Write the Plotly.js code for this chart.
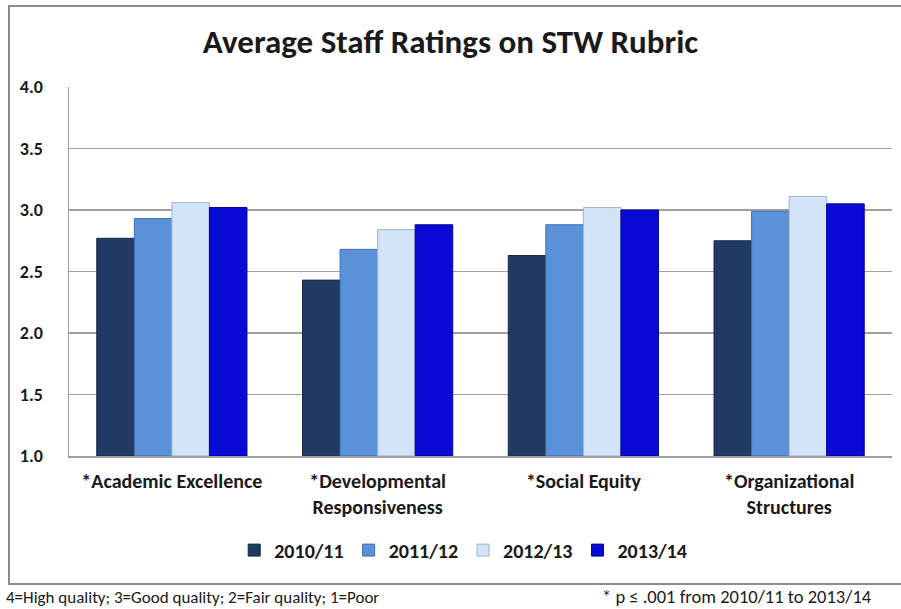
<!DOCTYPE html>
<html>
<head>
<meta charset="utf-8">
<script src="https://cdn.plot.ly/plotly-3.0.1.min.js"></script>
<style>
html,body{margin:0;padding:0;background:#fff;}
#chart{width:901px;height:609px;}
</style>
</head>
<body>
<div id="chart"></div>
<script>
const categories = ["*Academic Excellence", "*Developmental<br>Responsiveness", "*Social Equity", "*Organizational<br>Structures"];
const seriesNames = ["2010/11", "2011/12", "2012/13", "2013/14"];
const v2010 = [2.77, 2.43, 2.63, 2.75];
const v2011 = [2.93, 2.68, 2.88, 2.99];
const v2012 = [3.06, 2.84, 3.02, 3.11];
const v2013 = [3.02, 2.88, 3.00, 3.05];
const yTicks = [1.0, 1.5, 2.0, 2.5, 3.0, 3.5, 4.0];
const yTickText = ["1.0", "1.5", "2.0", "2.5", "3.0", "3.5", "4.0"];

const colors = ["#1f3b63", "#5b91d9", "#d3e3f8", "#0a0ad6"];
const lines = ["#142a4a", "#3f6fae", "#9fb3cc", "#05058f"];
const values = [v2010, v2011, v2012, v2013];

const FONT = "Carlito, Calibri, Lato, 'Open Sans', sans-serif";

const traces = values.map((v, i) => ({
  type: "bar",
  name: seriesNames[i],
  x: categories,
  y: v.map(val => val - 1.0),
  base: 1.0,
  marker: {color: colors[i], line: {color: lines[i], width: 1}},
  hoverinfo: "skip"
}));

const layout = {
  width: 901, height: 609,
  margin: {l: 69, r: 9, t: 87, b: 153},
  paper_bgcolor: "#ffffff",
  plot_bgcolor: "#ffffff",
  barmode: "group",
  bargap: 0.27,
  bargroupgap: 0,
  font: {family: FONT, color: "#1a1a1a"},
  title: {
    text: "<b>Average Staff Ratings on STW Rubric</b>",
    font: {family: FONT, size: 33, color: "#1a1a1a"},
    x: 0.5, xref: "container", y: 0.932, yref: "container", xanchor: "center", yanchor: "middle"
  },
  xaxis: {
    type: "category",
    showgrid: false,
    showline: true, linecolor: "#a0a0a0", linewidth: 1.5,
    ticks: "", ticklabelstandoff: 6,
    tickfont: {family: FONT, size: 20, color: "#1a1a1a", weight: "bold"},
    fixedrange: true
  },
  yaxis: {
    range: [1.0, 4.0],
    tickvals: yTicks, ticktext: yTickText,
    showgrid: true, gridcolor: "#a0a0a0", gridwidth: 1.5,
    showline: true, linecolor: "#a0a0a0", linewidth: 1.5,
    zeroline: false,
    ticks: "", ticklabelstandoff: 21,
    tickfont: {family: FONT, size: 18, color: "#1a1a1a", weight: "bold"},
    fixedrange: true
  },
  showlegend: true,
  legend: {
    orientation: "h",
    x: 0.479, xanchor: "center", xref: "paper",
    y: -0.255, yanchor: "middle", yref: "paper",
    font: {family: FONT, size: 20, color: "#1a1a1a", weight: "bold"},
    itemwidth: 30,
    traceorder: "normal"
  },
  shapes: [{
    type: "rect", xref: "paper", yref: "paper",
    x0: (9 - 69) / 823, x1: (903 - 69) / 823,
    y0: (456 - 584) / 369, y1: (456 - 6) / 369,
    line: {color: "#8c8c8c", width: 2}, fillcolor: "rgba(0,0,0,0)", layer: "below"
  }],
  annotations: [
    {text: "4=High quality; 3=Good quality; 2=Fair quality; 1=Poor", xref: "paper", yref: "paper",
     x: (4 - 69) / 823, y: (456 - 597) / 369, xanchor: "left", yanchor: "middle", showarrow: false,
     font: {family: FONT, size: 17, color: "#1a1a1a"}},
    {text: "* p ≤ .001 from 2010/11 to 2013/14", xref: "paper", yref: "paper",
     x: (737 - 69) / 823, y: (456 - 596) / 369, xanchor: "center", yanchor: "middle", showarrow: false,
     font: {family: FONT, size: 18.5, color: "#1a1a1a"}}
  ]
};

Plotly.newPlot("chart", traces, layout, {displayModeBar: false, staticPlot: true});
</script>
</body>
</html>
